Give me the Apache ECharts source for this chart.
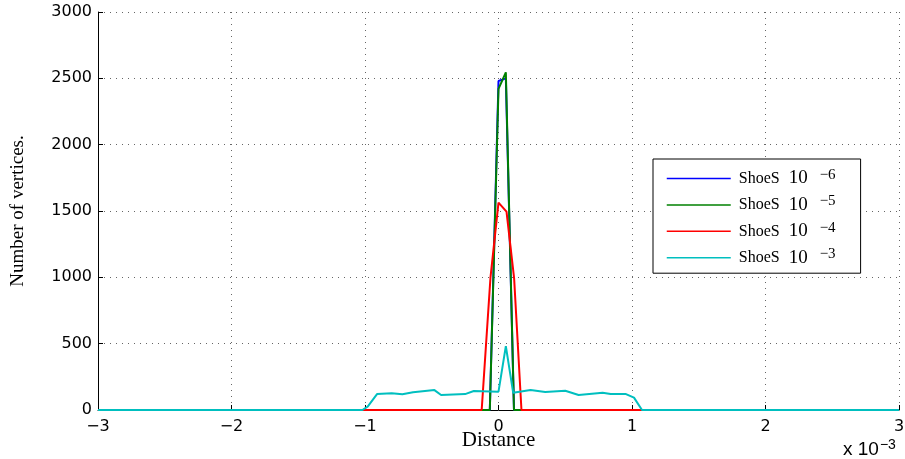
<!DOCTYPE html>
<html>
<head>
<meta charset="utf-8">
<script src="https://cdn.jsdelivr.net/npm/echarts@6/dist/echarts.min.js"></script>
<style>
  html, body { margin: 0; padding: 0; background: #fff; }
  #chart { width: 905px; height: 459px; }
</style>
</head>
<body>
<div id="chart"></div>
<script>
// ---- data (distance in units of 1e-3) ----
const seriesBase = 'ShoeS 10';
const seriesExps = ['\u22126', '\u22125', '\u22124', '\u22123'];
const seriesColors = ['#0000ff', '#008000', '#ff0000', '#00bfbf'];

const distBlue  = [-3, -0.065, 0, 0.055, 0.116, 3];
const countBlue = [0, 0, 2480, 2500, 0, 0];

const distGreen  = [-3, -0.065, 0, 0.055, 0.116, 3];
const countGreen = [0, 0, 2420, 2545, 0, 0];

const distRed  = [-3, -0.126, -0.06, 0, 0.06, 0.117, 0.172, 3];
const countRed = [0, 0, 1000, 1563, 1495, 993, 0, 0];

const distCyan  = [-3, -1.02, -0.98, -0.91, -0.80, -0.72, -0.64, -0.48, -0.43, -0.25, -0.185, 0, 0.055, 0.11, 0.24, 0.35, 0.50, 0.60, 0.78, 0.84, 0.955, 1.015, 1.075, 3];
const countCyan = [0, 0, 25, 120, 126, 118, 133, 150, 113, 120, 143, 138, 482, 130, 150, 135, 145, 113, 130, 120, 120, 93, 0, 0];

const xTickMin = -3, xTickMax = 3, xTickStep = 1;
const yTickMin = 0, yTickMax = 3000, yTickStep = 500;
const xAxisTitle = 'Distance';
const yAxisTitle = 'Number of vertices.';
const xMultiplierBase = 'x 10';
const xMultiplierExp = '\u22123';

// ---- build ----
const dists = [distBlue, distGreen, distRed, distCyan];
const counts = [countBlue, countGreen, countRed, countCyan];
const names = seriesExps.map(e => seriesBase + e);

const minus = v => (v < 0 ? '\u2212' + Math.abs(v) : String(v));
const gridDots = { show: true, lineStyle: { color: '#666', width: 1, type: [1, 5] } };

const chart = echarts.init(document.getElementById('chart'), null, { renderer: 'canvas' });
chart.setOption({
  animation: false,
  backgroundColor: '#fff',
  grid: { left: 98, right: 6, top: 12, bottom: 49, containLabel: false, outerBoundsMode: 'none' },
  xAxis: {
    type: 'value', min: xTickMin, max: xTickMax, interval: xTickStep,
    name: xAxisTitle, nameLocation: 'middle', nameGap: 20, nameMoveOverlap: false,
    nameTextStyle: { fontFamily: 'Liberation Serif', fontSize: 21, color: '#000' },
    axisLine: { show: true, onZero: false, lineStyle: { color: '#000', width: 1 } },
    axisTick: { show: true, inside: true, length: 5, lineStyle: { color: '#000' } },
    axisLabel: { formatter: minus, fontFamily: 'DejaVu Sans', fontSize: 16, color: '#000', margin: 9 },
    splitLine: gridDots
  },
  yAxis: {
    type: 'value', min: yTickMin, max: yTickMax, interval: yTickStep,
    name: yAxisTitle, nameLocation: 'middle', nameRotate: 90, nameGap: 70, nameMoveOverlap: false,
    nameTextStyle: { fontFamily: 'Liberation Serif', fontSize: 19, color: '#000' },
    axisLine: { show: true, onZero: false, lineStyle: { color: '#000', width: 1 } },
    axisTick: { show: true, inside: true, length: 5, lineStyle: { color: '#000' } },
    axisLabel: { formatter: v => String(v), fontFamily: 'DejaVu Sans', fontSize: 16, color: '#000', margin: 6 },
    splitLine: gridDots
  },
  legend: {
    orient: 'vertical', left: 653, top: 159,
    padding: [8.5, 25, 4.5, 13], itemGap: 4.4, itemWidth: 64, itemHeight: 14,
    borderColor: '#000', borderWidth: 1, backgroundColor: '#fff',
    data: names,
    lineStyle: { width: 1.5 },
    itemStyle: { opacity: 0 },
    formatter: function (name) {
      const e = name.slice(seriesBase.length);
      return '{a|ShoeS}{n|10}{s|' + e + '}';
    },
    textStyle: {
      color: '#000', fontFamily: 'Liberation Serif', fontSize: 16,
      rich: {
        a: { fontFamily: 'Liberation Serif', fontSize: 16, lineHeight: 20, color: '#000', padding: [0, 0, 0, 3] },
        n: { fontFamily: 'Liberation Serif', fontSize: 19, lineHeight: 20, color: '#000', padding: [0, 0, 0, 9] },
        s: { fontFamily: 'Liberation Serif', fontSize: 15, lineHeight: 12, color: '#000', padding: [0, 0, 7, 12] }
      }
    }
  },
  graphic: [{
    type: 'text', left: 843, top: 438, silent: true,
    style: {
      text: '{a|' + xMultiplierBase + '}{s|' + xMultiplierExp + '}',
      rich: {
        a: { fontFamily: 'Liberation Sans', fontSize: 19, lineHeight: 20, fill: '#000' },
        s: { fontFamily: 'Liberation Sans', fontSize: 14, lineHeight: 12, fill: '#000', padding: [0, 0, 10, 1] }
      }
    }
  }],
  series: names.map((n, i) => ({
    name: n, type: 'line', symbol: 'none', showSymbol: false,
    data: dists[i].map((d, j) => [d, counts[i][j]]),
    lineStyle: { color: seriesColors[i], width: 2 },
    itemStyle: { color: seriesColors[i] },
    z: 2 + i
  }))
});
</script>
</body>
</html>
